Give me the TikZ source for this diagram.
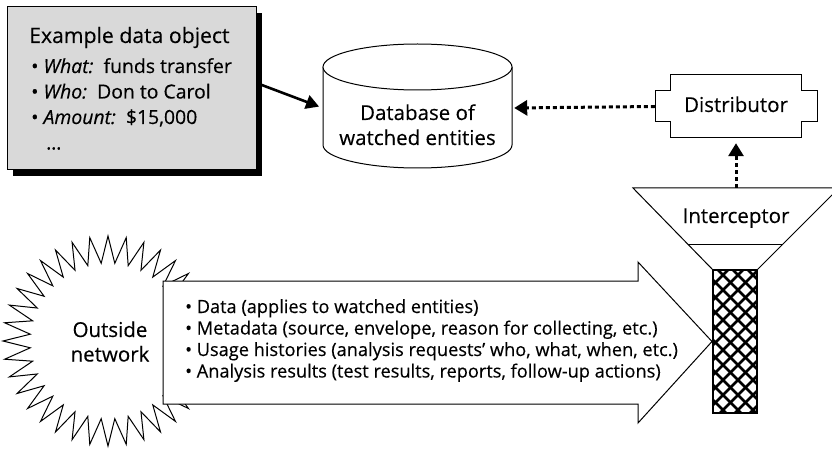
\documentclass[tikz,border=0pt]{standalone}
\usepackage{fontspec}
\setmainfont{Open Sans}[FakeBold=0.3]
\usetikzlibrary{arrows.meta,shadows}
\begin{document}
\begin{tikzpicture}[x=1pt,y=-1pt,
  thinline/.style={draw=black,line width=1pt},
  frame/.style={draw=none,inner sep=0pt},
  boldarrow/.style={line width=2.6pt,-{Triangle[length=13pt,width=14pt]}},
  dotarrow/.style={line width=3pt,dash pattern=on 4pt off 3pt,-{Triangle[length=13pt,width=15pt]}},
  big/.style={inner sep=0pt,font=\fontsize{21.2}{25}\selectfont},
  mid/.style={inner sep=0pt,font=\fontsize{20.5}{24}\selectfont},
  list/.style={inner sep=0pt,font=\fontsize{19.4}{23}\selectfont},
  small/.style={inner sep=0pt,font=\fontsize{18.2}{21}\selectfont},
  mesh/.style={line width=2.6pt}
]
\useasboundingbox (0,0) rectangle (832,449);
\clip (0,0) rectangle (832,449);

% ---- example data object ----
\node[draw=black,line width=1pt,fill=black!15,minimum width=249pt,minimum height=163pt,
      drop shadow={shadow xshift=6pt,shadow yshift=-6pt,fill=black,opacity=1}]
      (obj) at (131.5,88.5) {};
\node[big,anchor=base west] (objtitle) at (29,43) {Example data object};
\node[list,anchor=base west] (objwhat) at (31,73) {• \textit{What:}\ \ funds transfer};
\node[list,anchor=base west] (objwho) at (31,98.5) {• \textit{Who:}\ \ Don to Carol};
\node[list,anchor=base west] (objamt) at (31,124) {• \textit{Amount:}\ \ \$15,000};
\node[list,anchor=base west] (objmore) at (46,149.5) {…};

% ---- database cylinder ----
\draw[thinline,fill=white] (323,67) -- (323,145)
  arc[start angle=180,end angle=0,x radius=94.5,y radius=23] -- (512,67);
\draw[thinline,fill=white] (417.5,67) ellipse[x radius=94.5,y radius=23];
\node[frame,minimum width=189pt,minimum height=120pt] (db) at (417.5,108) {};
\node[mid,anchor=base] (dbl1) at (417.5,120) {Database of};
\node[mid,anchor=base] (dbl2) at (417.5,145) {watched entities};

% ---- distributor ----
\draw[thinline,fill=white] (670,75) -- (801,75) -- (801,91) -- (817,91) -- (817,122)
  -- (801,122) -- (801,138) -- (670,138) -- (670,122) -- (655,122) -- (655,91)
  -- (670,91) -- cycle;
\node[frame,minimum width=162pt,minimum height=63pt] (dist) at (736,106.5) {};
\node[mid,anchor=base] (distl) at (736,112) {Distributor};

% ---- interceptor funnel and mesh ----
\draw[thinline,fill=white] (633,188) -- (839,188) -- (757,270) -- (713,270) -- cycle;
\draw[thinline] (688,244) -- (783,244);
\coordinate (ftop) at (736,188);
\node[mid,anchor=base] (icpt) at (736,223) {Interceptor};
\begin{scope}
  \clip (713,270) rectangle (757,413);
  \foreach \k in {-10,...,3} {
    \draw[mesh] (718+15*\k,270) -- ++(160,160);
    \draw[mesh] (718+15*\k+160,270) -- ++(-160,160);
  }
\end{scope}
\draw[line width=1.4pt] (713,270) rectangle (757,413);

% ---- outside network ----
\draw[thinline,fill=white] plot[samples at={0,...,71},variable=\k]
  ({108+ifthenelse(mod(\k,2)==0,105,78)*cos(\k*5)},
   {341+ifthenelse(mod(\k,2)==0,105,78)*sin(\k*5)}) -- cycle;
\node[mid,anchor=base] (out1) at (110,337) {Outside};
\node[mid,anchor=base] (out2) at (110,361.5) {network};

% ---- flow arrow ----
\draw[thinline,fill=white] (163,281) -- (638,281) -- (638,262) -- (712,341.5)
  -- (638,423) -- (638,404) -- (163,404) -- cycle;
\node[small,anchor=base west] (flow1) at (185,313) {• Data (applies to watched entities)};
\node[small,anchor=base west] (flow2) at (185,334.5) {• Metadata (source, envelope, reason for collecting, etc.)};
\node[small,anchor=base west] (flow3) at (185,356) {• Usage histories (analysis requests’ who, what, when, etc.)};
\node[small,anchor=base west] (flow4) at (185,377.5) {• Analysis results (test results, reports, follow-up actions)};

% ---- connectors ----
\draw[boldarrow,shorten >=4pt] ([yshift=5.5pt]obj.east) -- (db.west);
\draw[dotarrow,shorten >=2pt] (dist.west) -- (db.east);
\draw[dotarrow,shorten >=5pt] (ftop) -- (dist.south);
\end{tikzpicture}
\end{document}
